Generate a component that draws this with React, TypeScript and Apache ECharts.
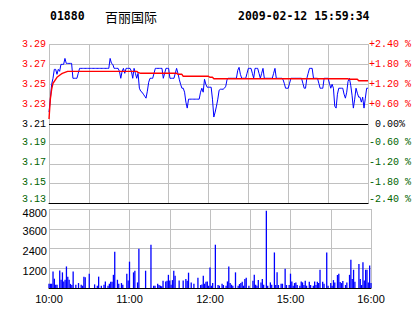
import React, { useEffect, useRef } from 'react';
import * as echarts from 'echarts';

const stockCode = '01880';
const stockName = '百丽国际';
const timestamp = '2009-02-12 15:59:34';
const prevClose = 3.21;
const timeLabels = ['10:00', '11:00', '12:00', '15:00', '16:00'];

// minute-by-minute last price (241 minutes, 10:00 - 16:00 with lunch break removed)
const prices = [
  3.222, 3.235, 3.250, 3.256, 3.265, 3.265, 3.260, 3.265, 3.263, 3.270,
  3.270, 3.270, 3.276, 3.271, 3.271, 3.271, 3.271, 3.271, 3.256, 3.256,
  3.256, 3.256, 3.261, 3.266, 3.266, 3.266, 3.266, 3.266, 3.266, 3.266,
  3.266, 3.266, 3.266, 3.266, 3.266, 3.266, 3.266, 3.266, 3.266, 3.266,
  3.266, 3.266, 3.266, 3.266, 3.266, 3.266, 3.276, 3.271, 3.270, 3.266,
  3.266, 3.266, 3.266, 3.263, 3.256, 3.263, 3.266, 3.261, 3.266, 3.266,
  3.266, 3.266, 3.263, 3.256, 3.266, 3.261, 3.256, 3.261, 3.246, 3.243,
  3.242, 3.240, 3.238, 3.236, 3.243, 3.252, 3.256, 3.256, 3.256, 3.261,
  3.266, 3.266, 3.266, 3.266, 3.266, 3.266, 3.256, 3.261, 3.266, 3.266,
  3.266, 3.256, 3.256, 3.256, 3.256, 3.261, 3.266, 3.261, 3.255, 3.250,
  3.246, 3.246, 3.242, 3.232, 3.226, 3.235, 3.235, 3.235, 3.235, 3.235,
  3.235, 3.235, 3.235, 3.235, 3.242, 3.246, 3.242, 3.255, 3.250, 3.247,
  3.247, 3.247, 3.247, 3.235, 3.217, 3.222, 3.228, 3.235, 3.244, 3.245,
  3.245, 3.245, 3.246, 3.248, 3.255, 3.256, 3.256, 3.256, 3.256, 3.256,
  3.256, 3.256, 3.264, 3.267, 3.260, 3.256, 3.256, 3.256, 3.256, 3.261,
  3.266, 3.266, 3.266, 3.261, 3.256, 3.266, 3.266, 3.266, 3.261, 3.256,
  3.261, 3.266, 3.256, 3.256, 3.256, 3.256, 3.256, 3.256, 3.256, 3.261,
  3.266, 3.256, 3.256, 3.256, 3.256, 3.256, 3.255, 3.251, 3.246, 3.246,
  3.246, 3.251, 3.256, 3.256, 3.256, 3.256, 3.256, 3.256, 3.256, 3.256,
  3.256, 3.251, 3.246, 3.246, 3.256, 3.261, 3.266, 3.266, 3.266, 3.256,
  3.256, 3.256, 3.256, 3.251, 3.246, 3.246, 3.246, 3.256, 3.256, 3.256,
  3.256, 3.251, 3.246, 3.250, 3.246, 3.228, 3.226, 3.240, 3.246, 3.246,
  3.246, 3.246, 3.240, 3.236, 3.242, 3.253, 3.256, 3.249, 3.239, 3.226,
  3.235, 3.246, 3.241, 3.237, 3.237, 3.232, 3.237, 3.226, 3.236, 3.246,
  3.246,
];

// average price line, read at the minutes where it changes
const avgMinutes = [0, 1, 2, 3, 4, 5, 6, 7, 8, 9, 10, 12, 14, 66, 67, 69, 96, 97, 100, 101, 120, 121, 123, 124, 225, 226, 232, 233, 240];
const avgValues = [3.215, 3.235, 3.245, 3.251, 3.253, 3.255, 3.257, 3.258, 3.259, 3.260, 3.261, 3.262, 3.263, 3.263, 3.262, 3.261, 3.261, 3.260, 3.260, 3.258, 3.258, 3.257, 3.257, 3.2555, 3.2555, 3.255, 3.255, 3.2535, 3.2535];

// minute volumes
const volumes = [
  260, 260, 260, 1000, 565, 200, 200, 0, 1070, 500,
  950, 400, 500, 1310, 690, 500, 250, 180, 1000, 0,
  200, 0, 300, 0, 200, 140, 690, 650, 0, 0,
  870, 0, 0, 0, 220, 0, 140, 690, 0, 140,
  0, 200, 400, 0, 140, 260, 380, 380, 800, 2200,
  0, 500, 260, 0, 300, 200, 0, 0, 870, 460,
  1600, 0, 0, 950, 1050, 0, 340, 2390, 0, 0,
  0, 0, 1050, 0, 0, 0, 2630, 0, 140, 140,
  0, 260, 180, 140, 100, 440, 0, 400, 440, 800,
  460, 200, 480, 1050, 740, 0, 0, 460, 0, 0,
  460, 0, 540, 440, 930, 0, 340, 0, 260, 0,
  0, 630, 0, 180, 220, 740, 260, 380, 400, 140,
  1250, 140, 300, 0, 2630, 0, 180, 140, 0, 260,
  180, 0, 140, 400, 1310, 300, 200, 140, 0, 950,
  0, 140, 240, 300, 380, 140, 540, 630, 0, 140,
  0, 0, 440, 800, 200, 140, 480, 0, 340, 540,
  200, 0, 4700, 140, 0, 340, 200, 0, 2160, 180,
  950, 180, 0, 260, 260, 0, 1170, 180, 0, 180,
  870, 400, 140, 300, 340, 180, 0, 140, 400, 340,
  180, 440, 140, 0, 380, 180, 0, 140, 400, 180,
  380, 300, 1110, 0, 380, 260, 0, 2160, 140, 0,
  300, 140, 480, 340, 0, 790, 870, 360, 300, 420,
  0, 180, 340, 0, 800, 1720, 540, 1110, 380, 0,
  0, 1460, 540, 180, 1560, 460, 1110, 1110, 340, 1370,
  300,
];

const GREY = '#C0C0C0';
const RED = '#FF0000';
const GREEN = '#006400';
const BLUE = '#0000FF';
const MONO = '"Liberation Mono", "DejaVu Sans Mono", monospace';
const SANS = '"Liberation Sans", Arial, sans-serif';

export default function App() {
  const ref = useRef<HTMLDivElement>(null);

  useEffect(() => {
    if (!ref.current) return;
    const chart = echarts.init(ref.current, null, { renderer: 'svg' });

    const monoRich = (color: string, extra: object = {}) => ({ color, fontFamily: MONO, fontSize: 10, ...extra });
    const sansRich = (extra: object = {}) => ({ color: '#000', fontFamily: SANS, fontSize: 11, ...extra });

    chart.setOption({
      animation: false,
      backgroundColor: '#FFFFFF',
      grid: [
        { left: 49, top: 44.5, width: 322, height: 159 },
        { left: 49, top: 209, width: 322, height: 79 },
      ],
      xAxis: [
        {
          gridIndex: 0,
          type: 'value',
          min: 0,
          max: 240,
          interval: 30,
          axisLine: { show: true, onZero: false, lineStyle: { color: '#000', width: 1 } },
          axisTick: { show: false },
          axisLabel: { show: false },
          splitLine: { show: true, lineStyle: { color: GREY, width: 1 } },
        },
        {
          gridIndex: 1,
          type: 'value',
          min: 0,
          max: 240,
          interval: 30,
          axisLine: { show: true, onZero: false, lineStyle: { color: '#000', width: 1 } },
          axisTick: { show: false },
          axisLabel: {
            show: true,
            margin: 5,
            color: '#000',
            fontFamily: SANS,
            fontSize: 11,
            formatter: (v: number) => (Math.round(v) % 60 === 0 ? timeLabels[Math.round(v) / 60] : ''),
          },
          splitLine: { show: true, lineStyle: { color: GREY, width: 1 } },
        },
      ],
      yAxis: [
        {
          gridIndex: 0,
          type: 'value',
          min: 3.13,
          max: 3.29,
          interval: 0.02,
          axisLine: { show: false },
          axisTick: { show: false },
          splitLine: { show: true, lineStyle: { color: GREY, width: 1 } },
          axisLabel: {
            margin: 3,
            formatter: (v: number) => {
              const s = v.toFixed(2);
              if (Math.abs(v - prevClose) < 1e-6) return `{k|${s}}`;
              if (v < 3.14) return `{gb|${s}}`;
              if (v < prevClose) return `{g|${s}}`;
              return `{r|${s}}`;
            },
            rich: {
              r: monoRich(RED),
              g: monoRich(GREEN, { padding: [0, 0, 3, 0] }),
              gb: monoRich(GREEN, { padding: [0, 0, 9, 0] }),
              k: monoRich('#000'),
            },
          },
        },
        {
          gridIndex: 0,
          type: 'value',
          position: 'right',
          min: -2.4,
          max: 2.4,
          interval: 0.6,
          axisLine: { show: true, lineStyle: { color: GREY, width: 1 } },
          axisTick: { show: false },
          splitLine: { show: false },
          axisLabel: {
            margin: 1,
            formatter: (v: number) => {
              if (Math.abs(v) < 1e-6) return '{k|0.00%}';
              if (v > 0) return `{r|+${v.toFixed(2)} %}`;
              if (v < -2.3) return `{gb|${v.toFixed(2)} %}`;
              return `{g|${v.toFixed(2)} %}`;
            },
            rich: {
              r: monoRich(RED),
              g: monoRich(GREEN, { padding: [0, 0, 3, 0] }),
              gb: monoRich(GREEN, { padding: [0, 0, 9, 0] }),
              k: monoRich('#000', { padding: [0, 0, 0, 6] }),
            },
          },
        },
        {
          gridIndex: 1,
          type: 'value',
          min: 0,
          max: 4800,
          interval: 1200,
          axisLine: { show: false },
          axisTick: { show: false },
          splitLine: { show: true, lineStyle: { color: GREY, width: 1 } },
          axisLabel: {
            margin: 2,
            formatter: (v: number) => {
              if (v === 0) return '';
              if (v === 4800) return `{t|${v}}`;
              return `{n|${v}}`;
            },
            rich: {
              n: sansRich({ padding: [5, 0, 0, 0] }),
              t: sansRich({ padding: [8, 0, 0, 0] }),
            },
          },
        },
      ],
      series: [
        {
          type: 'line',
          xAxisIndex: 0,
          yAxisIndex: 0,
          data: prices.map((p, i) => [i, p]),
          showSymbol: false,
          symbol: 'none',
          lineStyle: { color: BLUE, width: 1 },
          z: 3,
          markLine: {
            silent: true,
            symbol: 'none',
            label: { show: false },
            lineStyle: { color: '#000', type: 'solid', width: 1 },
            data: [{ yAxis: prevClose }],
          },
        },
        {
          type: 'line',
          xAxisIndex: 0,
          yAxisIndex: 0,
          data: avgMinutes.map((m, i) => [m, avgValues[i]]),
          showSymbol: false,
          symbol: 'none',
          lineStyle: { color: RED, width: 1.4 },
          z: 4,
        },
        {
          type: 'bar',
          xAxisIndex: 1,
          yAxisIndex: 2,
          data: volumes.map((v, i) => [i, v]),
          barWidth: 1.3,
          itemStyle: { color: BLUE },
        },
      ],
      graphic: [
        {
          type: 'text',
          x: 50,
          y: 16,
          style: {
            text: stockCode,
            fill: '#000',
            fontFamily: '"DejaVu Sans Mono", monospace',
            fontWeight: 'bold',
            fontSize: 11.5,
            verticalAlign: 'middle',
          },
        },
        {
          type: 'text',
          x: 105,
          y: 16,
          style: {
            text: stockName,
            fill: '#000',
            fontFamily: '"Noto Sans CJK SC", sans-serif',
            fontSize: 13,
            verticalAlign: 'middle',
          },
        },
        {
          type: 'text',
          x: 238,
          y: 16,
          style: {
            text: timestamp,
            fill: '#000',
            fontFamily: '"DejaVu Sans Mono", monospace',
            fontWeight: 'bold',
            fontSize: 11.5,
            verticalAlign: 'middle',
          },
        },
      ],
    });

    return () => chart.dispose();
  }, []);

  return (
    <div
      ref={ref}
      style={{ position: 'fixed', left: 0, top: 0, width: 414, height: 314, background: '#fff' }}
    />
  );
}
